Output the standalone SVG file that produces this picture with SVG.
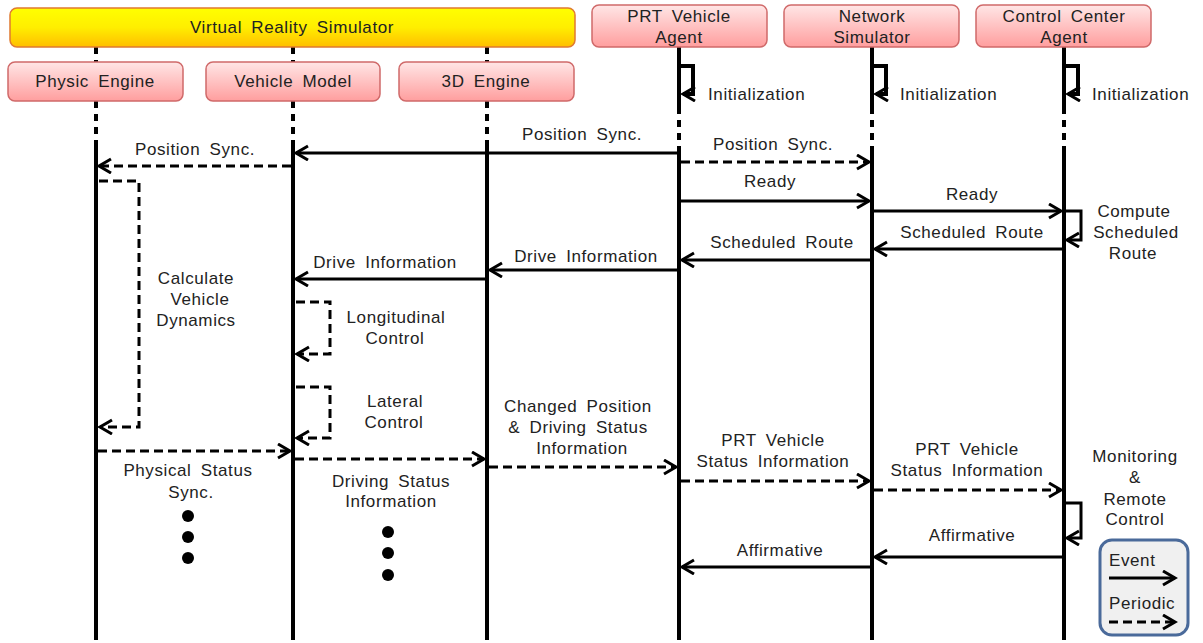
<svg xmlns="http://www.w3.org/2000/svg" width="1203" height="643" viewBox="0 0 1203 643">
<defs>
<linearGradient id="gy" x1="0" y1="0" x2="0" y2="1"><stop offset="0" stop-color="#FFFF00"/><stop offset="0.5" stop-color="#FFEE00"/><stop offset="1" stop-color="#FFBE00"/></linearGradient>
<linearGradient id="gp" x1="0" y1="0" x2="0" y2="1"><stop offset="0" stop-color="#FFE6E6"/><stop offset="1" stop-color="#FF9E9E"/></linearGradient>
<marker id="ah" markerUnits="userSpaceOnUse" markerWidth="18" markerHeight="18" refX="13" refY="8" orient="auto"><path d="M1,1 L13,8 L1,15" fill="none" stroke="#000" stroke-width="3"/></marker>
<style>
.t{font-family:"Liberation Sans",Arial,sans-serif;font-size:17px;fill:#222;text-anchor:middle;letter-spacing:0.6px;word-spacing:4px}
.tl{font-family:"Liberation Sans",Arial,sans-serif;font-size:17px;fill:#222;text-anchor:start;letter-spacing:0.6px;word-spacing:4px}
.bx{fill:url(#gp);stroke:#D06A6A;stroke-width:1.5}
.ll{stroke:#000;stroke-width:4;fill:none}
.lld{stroke:#000;stroke-width:4;fill:none;stroke-dasharray:7,6}
.m{stroke:#000;stroke-width:3;fill:none;marker-end:url(#ah)}
.mi{stroke:#000;stroke-width:4;fill:none;marker-end:url(#ah)}
.md{stroke:#000;stroke-width:3;fill:none;stroke-dasharray:9,5;marker-end:url(#ah)}
</style>
</defs>
<rect width="1203" height="643" fill="#fff"/>
<g id="lifelines">
<line class="lld" x1="96" y1="47" x2="96" y2="62"/><line class="lld" x1="96" y1="101" x2="96" y2="146"/><line class="ll" x1="96" y1="146" x2="96" y2="640"/>
<line class="lld" x1="293" y1="47" x2="293" y2="62"/><line class="lld" x1="293" y1="101" x2="293" y2="146"/><line class="ll" x1="293" y1="146" x2="293" y2="640"/>
<line class="lld" x1="487" y1="47" x2="487" y2="62"/><line class="lld" x1="487" y1="101" x2="487" y2="146"/><line class="ll" x1="487" y1="146" x2="487" y2="640"/>
<line class="ll" x1="679" y1="47" x2="679" y2="107"/><line class="lld" x1="679" y1="107" x2="679" y2="146"/><line class="ll" x1="679" y1="146" x2="679" y2="640"/>
<line class="ll" x1="872" y1="47" x2="872" y2="107"/><line class="lld" x1="872" y1="107" x2="872" y2="146"/><line class="ll" x1="872" y1="146" x2="872" y2="640"/>
<line class="ll" x1="1064" y1="47" x2="1064" y2="107"/><line class="lld" x1="1064" y1="107" x2="1064" y2="146"/><line class="ll" x1="1064" y1="146" x2="1064" y2="640"/>
</g>
<g id="vrs"><rect x="10" y="8" width="565" height="39" rx="7" fill="url(#gy)" stroke="#E07A30" stroke-width="1.5"/><text class="t" x="292" y="33">Virtual Reality Simulator</text></g>
<g id="physic"><rect class="bx" x="8" y="62" width="175" height="39" rx="7"/><text class="t" x="95" y="87">Physic Engine</text></g>
<g id="vehicle"><rect class="bx" x="206" y="62" width="174" height="39" rx="7"/><text class="t" x="293" y="87">Vehicle Model</text></g>
<g id="engine3d"><rect class="bx" x="399" y="62" width="175" height="39" rx="7"/><text class="t" x="486" y="87">3D Engine</text></g>
<g id="prt"><rect class="bx" x="592" y="5" width="175" height="42" rx="7"/><text class="t" x="679" y="22">PRT Vehicle</text><text class="t" x="679" y="43">Agent</text></g>
<g id="network"><rect class="bx" x="784" y="5" width="175" height="42" rx="7"/><text class="t" x="872" y="22">Network</text><text class="t" x="872" y="43">Simulator</text></g>
<g id="control"><rect class="bx" x="976" y="5" width="175" height="42" rx="7"/><text class="t" x="1064" y="22">Control Center</text><text class="t" x="1064" y="43">Agent</text></g>
<g id="connectors">
<path class="mi" d="M681,66 H693 V94 H683"/>
<path class="mi" d="M874,66 H886 V94 H876"/>
<path class="mi" d="M1066,66 H1078 V94 H1068"/>
<line class="m" x1="679" y1="153" x2="296" y2="153"/>
<line class="md" x1="291" y1="166" x2="99" y2="166"/>
<line class="md" x1="681" y1="162" x2="869" y2="162"/>
<line class="m" x1="681" y1="201" x2="869" y2="201"/>
<line class="m" x1="874" y1="211" x2="1061" y2="211"/>
<path class="m" d="M1066,211 H1081 V240 H1067"/>
<line class="m" x1="1062" y1="249" x2="875" y2="249"/>
<line class="m" x1="870" y1="260" x2="682" y2="260"/>
<line class="m" x1="677" y1="270" x2="490" y2="270"/>
<line class="m" x1="485" y1="279" x2="296" y2="279"/>
<path class="md" d="M99,181 H139 V427 H100"/>
<path class="md" d="M296,302 H330 V354 H297"/>
<path class="md" d="M296,387 H330 V438 H297"/>
<line class="md" x1="98" y1="451" x2="290" y2="451"/>
<line class="md" x1="295" y1="459" x2="484" y2="459"/>
<line class="md" x1="489" y1="467" x2="676" y2="467"/>
<line class="md" x1="681" y1="481" x2="869" y2="481"/>
<line class="md" x1="874" y1="490" x2="1061" y2="490"/>
<path class="m" d="M1066,503 H1081 V538 H1067"/>
<line class="m" x1="1062" y1="557" x2="875" y2="557"/>
<line class="m" x1="870" y1="567" x2="682" y2="567"/>
</g>
<g id="labels">
<text class="tl" x="708" y="100">Initialization</text>
<text class="tl" x="900" y="100">Initialization</text>
<text class="tl" x="1092" y="100">Initialization</text>
<text class="t" x="582" y="140">Position Sync.</text>
<text class="t" x="195" y="155">Position Sync.</text>
<text class="t" x="773" y="150">Position Sync.</text>
<text class="t" x="770" y="187">Ready</text>
<text class="t" x="972" y="200">Ready</text>
<text class="t" x="1134" y="217">Compute</text><text class="t" x="1136" y="238">Scheduled</text><text class="t" x="1133" y="259">Route</text>
<text class="t" x="972" y="238">Scheduled Route</text>
<text class="t" x="782" y="248">Scheduled Route</text>
<text class="t" x="586" y="262">Drive Information</text>
<text class="t" x="385" y="268">Drive Information</text>
<text class="t" x="196" y="284">Calculate</text><text class="t" x="200" y="305">Vehicle</text><text class="t" x="196" y="326">Dynamics</text>
<text class="t" x="396" y="323">Longitudinal</text><text class="t" x="395" y="344">Control</text>
<text class="t" x="395" y="407">Lateral</text><text class="t" x="394" y="428">Control</text>
<text class="t" x="188" y="476">Physical Status</text><text class="t" x="191" y="498">Sync.</text>
<text class="t" x="391" y="487">Driving Status</text><text class="t" x="391" y="507">Information</text>
<text class="t" x="578" y="412">Changed Position</text><text class="t" x="578" y="433">&amp; Driving Status</text><text class="t" x="582" y="454">Information</text>
<text class="t" x="773" y="446">PRT Vehicle</text><text class="t" x="773" y="467">Status Information</text>
<text class="t" x="967" y="455">PRT Vehicle</text><text class="t" x="967" y="476">Status Information</text>
<text class="t" x="1135" y="462">Monitoring</text><text class="t" x="1135" y="483">&amp;</text><text class="t" x="1135" y="505">Remote</text><text class="t" x="1135" y="525">Control</text>
<text class="t" x="972" y="541">Affirmative</text>
<text class="t" x="780" y="556">Affirmative</text>
</g>
<g id="dots" fill="#000">
<circle cx="188" cy="516" r="6"/><circle cx="188" cy="537" r="6"/><circle cx="188" cy="558" r="6"/>
<circle cx="388" cy="532" r="6"/><circle cx="388" cy="553" r="6"/><circle cx="388" cy="575" r="6"/>
</g>
<g id="legend">
<rect x="1100" y="540" width="88" height="95" rx="12" fill="#F0F0F0" stroke="#4A6A9A" stroke-width="3"/>
<text class="tl" x="1109" y="566">Event</text>
<line class="m" x1="1109" y1="578" x2="1175" y2="578"/>
<text class="tl" x="1109" y="609">Periodic</text>
<line class="md" x1="1109" y1="622" x2="1175" y2="622"/>
</g>
</svg>
